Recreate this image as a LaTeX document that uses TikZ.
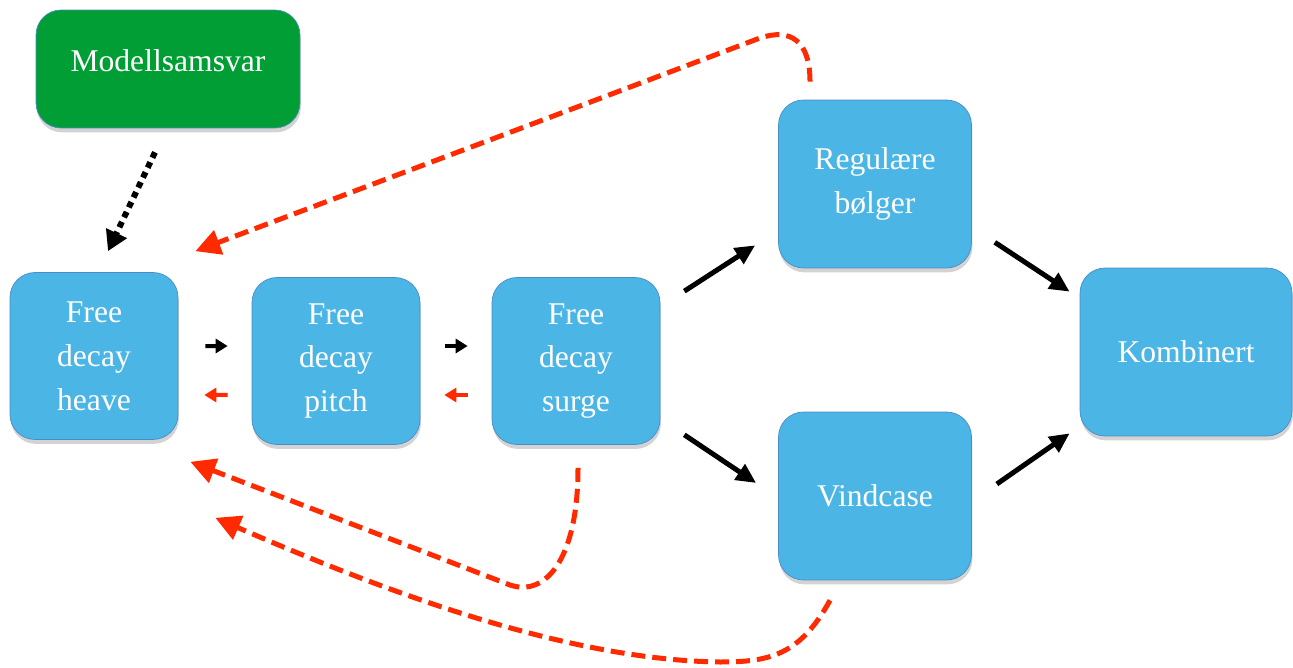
\documentclass[tikz,border=0pt]{standalone}
\usepackage{fontspec}
\setmainfont{Liberation Serif}
\usepackage{tikz}
\usetikzlibrary{arrows.meta,shadows}
\definecolor{boxblue}{HTML}{4BB5E5}
\definecolor{boxline}{HTML}{4A8CC8}
\definecolor{boxgreen}{HTML}{009E34}
\definecolor{backred}{HTML}{FF2A00}

\begin{document}
\begin{tikzpicture}[x=0.02cm, y=-0.02cm,
	bluebox/.style={rectangle, rounded corners=0.5cm, draw=boxline, fill=boxblue, text=white, align=center,
		minimum width=3.36cm, minimum height=3.34cm, inner sep=0pt, font=\fontsize{18}{25}\selectfont,
		drop shadow={shadow xshift=0.5pt, shadow yshift=-2.5pt, opacity=0.35}},
	greenbox/.style={bluebox, fill=boxgreen},
	fwdarrow/.style={line width=0.1cm, -{Triangle[length=0.4cm, width=0.36cm]}},
	dotarrow/.style={line width=0.12cm, dash pattern=on 0.12cm off 0.1cm, -{Triangle[length=0.4cm, width=0.44cm]}},
	backarrow/.style={backred, line width=0.1cm, dash pattern=on 0.28cm off 0.14cm, -{Triangle[length=0.5cm, width=0.5cm]}},
	smallfwd/.style={line width=0.08cm, -{Triangle[length=0.24cm, width=0.28cm]}},
	smallback/.style={smallfwd, backred}]
	\useasboundingbox (0,0) rectangle (1293,668);
	\node (modell) at (168,69) [greenbox, minimum width=5.28cm, minimum height=2.36cm, text depth=0.34cm] {Modellsamsvar};
	\node (heave) at (94,356) [bluebox] {Free\\decay\\heave};
		\node (pitch) at (336,361) [bluebox] {Free\\decay\\pitch};
			\node (surge) at (576,361) [bluebox] {Free\\decay\\surge};
	\node (reg) at (875,184) [bluebox, minimum width=3.86cm, minimum height=3.36cm] {Regulære\\bølger};
	\node (vind) at (875,496) [bluebox, minimum width=3.86cm, minimum height=3.36cm] {Vindcase};
		\node (komb) at (1186,352) [bluebox, minimum width=4.24cm, minimum height=3.36cm] {Kombinert};
	\draw[dotarrow] ([xshift=-0.26cm,yshift=-0.48cm]modell.south) -- ([xshift=0.28cm,yshift=0.42cm]heave.north);
	\draw[smallfwd] ([xshift=0.54cm,yshift=0.2cm]heave.east) -- ([xshift=-0.48cm,yshift=0.3cm]pitch.west);
	\draw[smallback] ([xshift=-0.48cm,yshift=-0.68cm]pitch.west) -- ([xshift=0.52cm,yshift=-0.78cm]heave.east);
	\draw[smallfwd] ([xshift=0.5cm,yshift=0.3cm]pitch.east) -- ([xshift=-0.48cm,yshift=0.3cm]surge.west);
	\draw[smallback] ([xshift=-0.48cm,yshift=-0.68cm]surge.west) -- ([xshift=0.48cm,yshift=-0.68cm]pitch.east);
	\draw[fwdarrow] ([xshift=0.48cm,yshift=-0.28cm]surge.north east) -- ([xshift=-0.46cm,yshift=0.46cm]reg.south west);
	\draw[fwdarrow] ([xshift=0.48cm,yshift=0.2cm]surge.south east) -- ([xshift=-0.44cm,yshift=0.26cm]vind.west);
	\draw[fwdarrow] ([xshift=0.46cm,yshift=0.52cm]reg.south east) -- ([xshift=-0.2cm,yshift=-0.48cm]komb.north west);
	\draw[fwdarrow] ([xshift=0.5cm,yshift=0.24cm]vind.east) -- ([xshift=-0.2cm,yshift=0.06cm]komb.south west);
	\draw[backarrow] ([xshift=-1.3cm,yshift=0.36cm]reg.north) .. controls (810,40) and (790,28) .. (760,38)
		-- ([xshift=0.34cm,yshift=0.42cm]heave.north east);
	\draw[backarrow] ([xshift=0.04cm,yshift=-0.46cm]surge.south) .. controls (578,560) and (545,597) .. (510,585)
		-- ([xshift=0.24cm,yshift=-0.44cm]heave.south east);
	\draw[backarrow] ([xshift=-0.9cm,yshift=-0.4cm]vind.south) .. controls (800,655) and (770,662) .. (720,662)
		.. controls (560,660) and (370,585) .. ([xshift=0.74cm,yshift=-1.56cm]heave.south east);
\end{tikzpicture}
\end{document}
